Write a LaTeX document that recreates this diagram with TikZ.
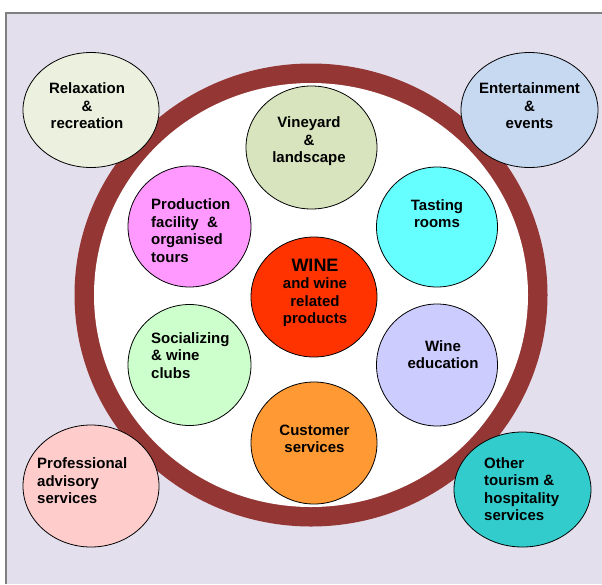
\documentclass[tikz,border=0pt]{standalone}
\usepackage{fontspec}
\setmainfont{Liberation Sans}
\usetikzlibrary{shapes.geometric}
\definecolor{panel}{HTML}{E4DFEC}
\definecolor{rim}{HTML}{943634}

\begin{document}
\begin{tikzpicture}[x=1pt,y=-1pt,
  bubble/.style={ellipse,draw=black,line width=0.8pt,inner sep=0pt},
  lbl/.style={font=\fontsize{15}{17.5}\selectfont\bfseries,inner sep=0pt,align=center},
  lbll/.style={lbl,align=left,anchor=west}]
\useasboundingbox (0,0) rectangle (602,584);
\fill[panel] (6,13) rectangle (602,584);
\draw[gray,line width=1.3pt] (6,584) -- (6,13) -- (602,13);
\fill[rim] (311,295) ellipse [x radius=236.5,y radius=231.5];
\fill[white] (311,295) ellipse [x radius=217,y radius=212];

\node[bubble,fill={rgb,255:red,215;green,228;blue,189},minimum width=131,minimum height=123] (vineyard) at (311.5,147.5) {};
\node[bubble,fill={rgb,255:red,255;green,153;blue,255},minimum width=123,minimum height=121] (production) at (189.5,226.5) {};
\node[bubble,fill={rgb,255:red,102;green,255;blue,255},minimum width=121,minimum height=120] (tasting) at (437,227) {};
\node[bubble,fill={rgb,255:red,255;green,51;blue,0},minimum width=126,minimum height=120] (wine) at (314,297) {};
\node[bubble,fill={rgb,255:red,204;green,255;blue,204},minimum width=123,minimum height=121] (socializing) at (189.5,365) {};
\node[bubble,fill={rgb,255:red,204;green,204;blue,255},minimum width=121,minimum height=122] (education) at (437,365) {};
\node[bubble,fill={rgb,255:red,255;green,153;blue,51},minimum width=126,minimum height=122] (customer) at (314,443) {};
\node[bubble,fill={rgb,255:red,235;green,241;blue,222},minimum width=136,minimum height=115] (relaxation) at (91,110) {};
\node[bubble,fill={rgb,255:red,198;green,217;blue,241},minimum width=137,minimum height=115] (entertainment) at (529.5,110) {};
\node[bubble,fill={rgb,255:red,255;green,204;blue,204},minimum width=136,minimum height=122] (professional) at (91,486) {};
\node[bubble,fill={rgb,255:red,51;green,204;blue,204},minimum width=137,minimum height=115] (other) at (522.5,489.5) {};

\node[lbl] (vineyard-t) at (309,141.5) {Vineyard\\\&\\landscape};
\node[lbll] (production-t) at (151,230.5) {Production\\facility~~\&\\organised\\tours};
\node[lbl] (tasting-t) at (437,213.5) {Tasting\\rooms};
\node[lbl] (wine-t) at (315,293) {{\fontsize{18}{20}\selectfont WINE}\\and wine\\related\\products};
\node[lbll] (socializing-t) at (151,355.5) {Socializing\\\& wine\\clubs};
\node[lbl] (education-t) at (443,354.5) {Wine\\education};
\node[lbl] (customer-t) at (314.5,439) {Customer\\services};
\node[lbl] (relaxation-t) at (87,106) {Relaxation\\\&\\recreation};
\node[lbl] (entertainment-t) at (529.5,106) {Entertainment\\\&\\events};
\node[lbll] (professional-t) at (37,481) {Professional\\advisory\\services};
\node[lbll] (other-t) at (484,489) {Other\\tourism \&\\hospitality\\services};
\end{tikzpicture}
\end{document}
